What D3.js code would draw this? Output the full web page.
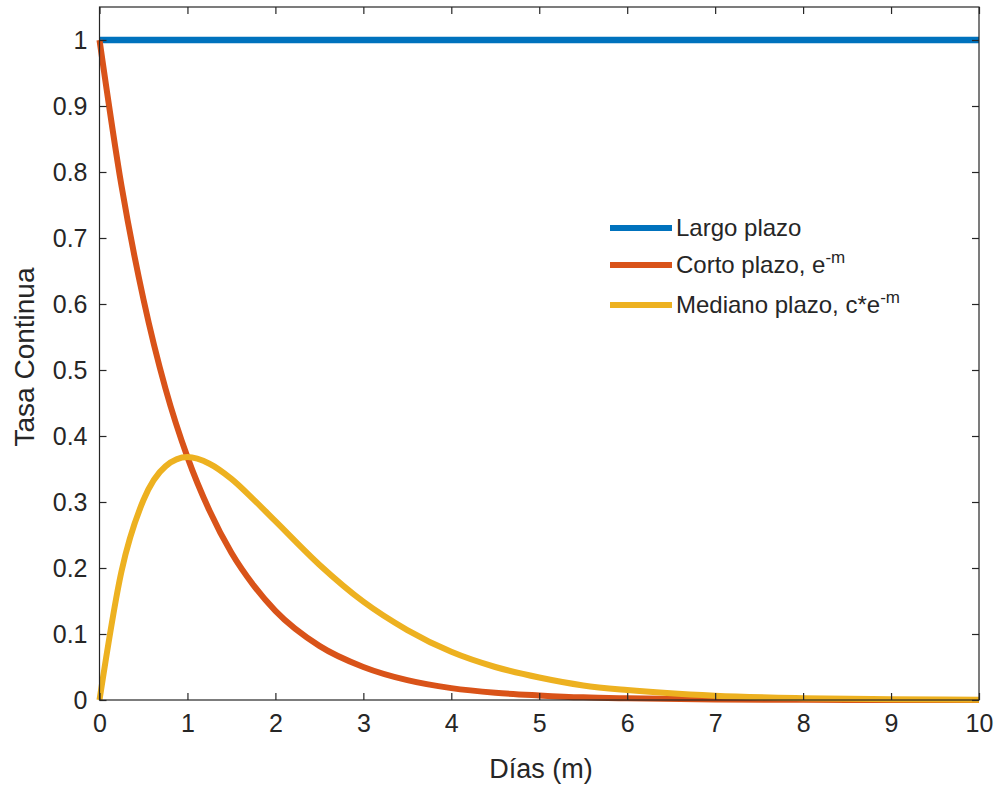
<!DOCTYPE html>
<html><head><meta charset="utf-8">
<script src="https://cdn.jsdelivr.net/npm/d3@7"></script>
<style>body{margin:0;background:#fff}svg{font-family:"Liberation Sans",Arial,sans-serif}</style>
</head><body><svg id="c" width="997" height="789"></svg>
<script>
const xTicks=[0,1,2,3,4,5,6,7,8,9,10];
const yTicks=[0,0.1,0.2,0.3,0.4,0.5,0.6,0.7,0.8,0.9,1];
const days=[0,0.25,0.5,0.75,1,1.25,1.5,1.75,2,2.5,3,3.5,4,4.5,5,5.5,6,7,8,9,10];
const largo=[1,1,1,1,1,1,1,1,1,1,1,1,1,1,1,1,1,1,1,1,1];
const corto=[1,0.779,0.607,0.472,0.368,0.287,0.223,0.174,0.135,0.082,0.050,0.030,0.018,0.011,0.007,0.004,0.0025,0.0009,0.0003,0.0001,0.00005];
const mediano=[0,0.195,0.303,0.354,0.368,0.358,0.335,0.304,0.271,0.205,0.149,0.106,0.073,0.050,0.034,0.022,0.015,0.0064,0.0027,0.0011,0.0005];
const seriesNames=["Largo plazo","Corto plazo, e","Mediano plazo, c*e"];
const colors=["#0072BD","#D95319","#EDB120"];

const svg=d3.select("#c");
const L=99.5,R=979,T=7,B=700;
const x=d3.scaleLinear().domain([0,10]).range([L,R]);
const y=d3.scaleLinear().domain([0,1.05]).range([B,T]);
const ax="#262626";

const series=[largo,corto,mediano];
const line=d3.line().x((d,i)=>x(days[i])).y(d=>y(d)).curve(d3.curveMonotoneX);
const widths=[6.5,6,6];
series.forEach((s,k)=>{
  svg.append("path").datum(s).attr("d",line).attr("fill","none")
    .attr("stroke",colors[k]).attr("stroke-width",widths[k]).attr("stroke-linejoin","round");
});
svg.append("rect").attr("x",L).attr("y",T).attr("width",R-L).attr("height",B-T)
  .attr("fill","none").attr("stroke",ax).attr("stroke-width",1.2);
const tl=7;
const xb=svg.append("g").attr("transform",`translate(0,${B})`)
  .call(d3.axisBottom(x).tickValues(xTicks).tickSize(-tl).tickPadding(23).tickFormat(d3.format("d")));
const xt=svg.append("g").attr("transform",`translate(0,${T})`)
  .call(d3.axisTop(x).tickValues(xTicks).tickSize(-tl).tickFormat(""));
const yl=svg.append("g").attr("transform",`translate(${L},0)`)
  .call(d3.axisLeft(y).tickValues(yTicks).tickSize(-tl).tickPadding(12).tickFormat(d=>String(+d.toFixed(1))));
const yr=svg.append("g").attr("transform",`translate(${R},0)`)
  .call(d3.axisRight(y).tickValues(yTicks).tickSize(-tl).tickFormat(""));
[xb,xt,yl,yr].forEach(g=>{
  g.select(".domain").remove();
  g.selectAll("line").attr("stroke",ax).attr("stroke-width",1.2);
  g.selectAll("text").attr("fill",ax).attr("font-size",25).attr("font-family","Liberation Sans, Arial, sans-serif");
});
xb.selectAll("text").attr("dy","0.35em");
yl.selectAll("text").attr("dy","0.35em");

svg.append("text").attr("x",541).attr("y",778).attr("text-anchor","middle")
  .attr("font-size",27).attr("fill",ax).text("Días (m)");
svg.append("text").attr("transform",`translate(34,357) rotate(-90)`).attr("text-anchor","middle")
  .attr("font-size",28).attr("fill",ax).text("Tasa Continua");

const lg=svg.append("g");
const ly=[228,265,305];
seriesNames.forEach((n,k)=>{
  lg.append("line").attr("x1",610).attr("x2",672).attr("y1",ly[k]).attr("y2",ly[k])
    .attr("stroke",colors[k]).attr("stroke-width",6);
  const t=lg.append("text").attr("x",676).attr("y",ly[k]+8).attr("font-size",24).attr("fill",ax).text(n);
  if(k>0) t.append("tspan").attr("dy",-10).attr("font-size",17).text("-m");
});
</script></body></html>
